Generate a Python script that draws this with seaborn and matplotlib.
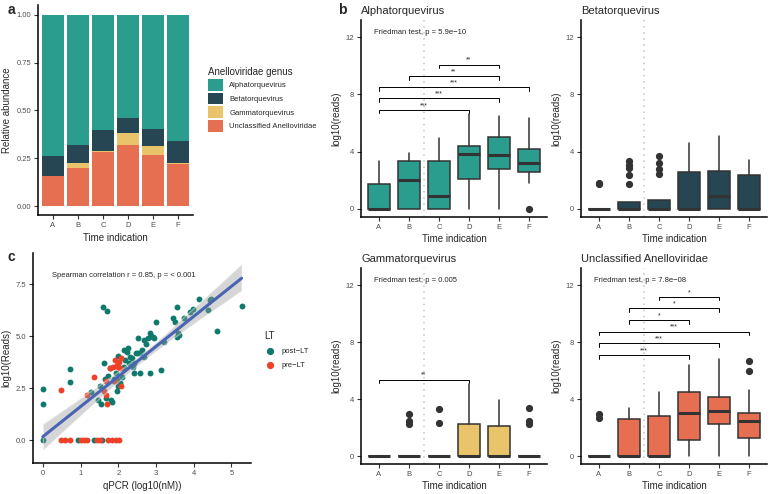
import matplotlib
matplotlib.use("Agg")
import matplotlib.pyplot as plt
from matplotlib.patches import Patch
from matplotlib.lines import Line2D
import numpy as np
import seaborn as sns

sns.set_theme(style="ticks")
plt.rcParams['font.family'] = ['Liberation Sans', 'DejaVu Sans']

# --- data ---
times = ['A', 'B', 'C', 'D', 'E', 'F']
genera = ['Alphatorquevirus', 'Betatorquevirus', 'Gammatorquevirus', 'Unclassified Anelloviridae']
genus_colors = ['#2a9d8f', '#264653', '#e9c46a', '#e76f51']

# panel a: relative abundance (bottom to top: unclassified, gamma, beta, alpha)
unclassified_rel = [0.160, 0.198, 0.285, 0.320, 0.270, 0.220]
gamma_rel = [0.000, 0.027, 0.005, 0.065, 0.045, 0.007]
beta_rel = [0.105, 0.095, 0.110, 0.075, 0.090, 0.113]
alpha_rel = [0.735, 0.680, 0.600, 0.540, 0.595, 0.660]

# panel b: box stats per time point (whislo, q1, median, q3, whishi) + outliers
alpha_box = [(0, 0, 0, 1.75, 3.35), (0, 0, 2.0, 3.33, 3.93), (0, 0, 0.88, 3.35, 4.95),
             (0, 2.09, 3.84, 4.40, 6.60), (0, 2.79, 3.79, 5.02, 6.49), (1.81, 2.58, 3.19, 4.16, 6.33)]
alpha_out = [[], [], [], [], [], [0]]
beta_box = [(0, 0, 0, 0, 0), (0, 0, 0, 0.49, 0.49), (0, 0, 0, 0.65, 0.65),
            (0, 0, 0, 2.56, 4.60), (0, 0, 0.91, 2.65, 5.09), (0, 0, 0, 2.40, 3.44)]
beta_out = [[1.72, 1.81], [1.77, 2.35, 2.86, 3.09, 3.33], [2.42, 2.77, 3.23, 3.67], [], [], []]
gamma_box = [(0, 0, 0, 0, 0), (0, 0, 0, 0, 0), (0, 0, 0, 0, 0),
             (0, 0, 0, 2.23, 5.07), (0, 0, 0, 2.12, 3.93), (0, 0, 0, 0, 0)]
gamma_out = [[], [2.23, 2.47, 2.93], [2.35, 3.28], [], [], [2.28, 2.47, 3.35]]
uncl_box = [(0, 0, 0, 0, 0), (0, 0, 0, 2.58, 3.35), (0, 0, 0, 2.84, 4.51),
            (0, 1.14, 3.05, 4.47, 6.42), (0, 2.28, 3.16, 4.16, 6.79), (0, 1.30, 2.47, 3.00, 4.63)]
uncl_out = [[2.70, 2.98], [], [], [], [], [5.98, 6.67]]

# significance brackets (from, to, height, label)
alpha_sig = [(0, 3, 6.93, '***'), (0, 4, 7.72, '***'), (0, 5, 8.49, '***'),
             (1, 4, 9.28, '**'), (2, 4, 10.09, '**')]
beta_sig = []
gamma_sig = [(0, 3, 5.37, '**')]
uncl_sig = [(0, 3, 7.07, '***'), (0, 4, 7.93, '***'), (0, 5, 8.74, '***'),
            (1, 3, 9.53, '*'), (1, 4, 10.37, '*'), (2, 4, 11.19, '*')]

friedman = ['Friedman test, p = 5.9e\u221210', None,
            'Friedman test; p = 0.005', 'Friedman test, p = 7.8e\u221208']

# panel c: qPCR vs reads
post_x = [0, 0, 0, 0.71, 0.71, 0.92, 1.27, 1.37, 1.52, 1.46, 1.55, 1.60, 1.70, 1.61, 1.66,
          1.72, 1.68, 1.78, 1.82, 1.83, 1.89, 1.96, 1.99, 1.96, 1.90, 2.05, 1.93, 2.09, 2.16,
          2.19, 2.16, 2.23, 2.25, 2.31, 2.37, 2.43, 2.40, 2.42, 2.47, 2.52, 2.58, 2.52, 2.58,
          2.64, 2.67, 2.74, 2.80, 2.67, 2.84, 2.86, 2.91, 2.96, 2.84, 2.99, 3.13, 3.22, 3.46,
          3.51, 3.55, 3.55, 3.58, 3.62, 3.74, 3.91, 3.97, 4.14, 4.39, 4.42, 4.45, 4.63, 5.27,
          1.58, 2.28, 2.10, 2.00]
post_y = [2.48, 1.73, 0, 3.41, 2.79, 0, 2.32, 0, 2.58, 1.94, 1.73, 6.39, 6.23, 3.73, 2.95,
          3.09, 2.02, 3.45, 1.91, 1.81, 2.95, 2.34, 4.05, 2.90, 2.82, 2.74, 3.22, 3.46, 3.54,
          3.86, 4.34, 4.26, 4.42, 3.99, 3.94, 3.73, 3.54, 3.25, 4.21, 4.21, 4.18, 4.92, 3.22,
          4.34, 4.82, 4.62, 4.90, 4.02, 5.14, 5.02, 4.95, 4.90, 3.22, 5.70, 3.35, 4.70, 5.87,
          5.66, 6.39, 4.98, 5.14, 5.06, 5.87, 6.17, 6.33, 6.78, 6.27, 6.75, 6.81, 5.26, 6.46,
          0, 3.70, 3.05, 2.60]
pre_x = [0.48, 0.48, 0.59, 0.71, 1.02, 1.10, 1.17, 1.43, 1.52, 1.72, 1.83, 1.93, 2.02,
         1.18, 1.35, 1.61, 1.68, 1.68, 1.71, 1.77, 1.92, 1.96, 1.99, 2.03, 2.08, 2.05, 1.87,
         2.07, 1.92]
pre_y = [2.39, 0, 0, 0, 0, 0, 0, 0, 0, 0, 0, 0, 0,
         2.15, 3.03, 2.34, 2.18, 2.85, 1.75, 3.46, 3.86, 3.62, 3.51, 3.78, 3.94, 3.46, 3.54,
         2.61, 2.82]
post_color = '#0f7a6b'
pre_color = '#ee4128'

W, H = 772, 494
fig = plt.figure(figsize=(W / 100, H / 100), dpi=100)


def add_ax(x0, y0, x1, y1):
    return fig.add_axes([x0 / W, 1 - y1 / H, (x1 - x0) / W, (y1 - y0) / H])


def style(ax):
    sns.despine(ax=ax)
    for s in ['left', 'bottom']:
        ax.spines[s].set_linewidth(1.1)
        ax.spines[s].set_color('black')
    ax.tick_params(length=3, width=0.8, color='#333333', labelsize=5.5,
                   labelcolor='#4d4d4d', pad=2)
    ax.grid(False)


# --- panel a: stacked relative abundance ---
ax_a = add_ax(38, 5, 193, 215)
layers = [unclassified_rel, gamma_rel, beta_rel, alpha_rel]
layer_colors = [genus_colors[3], genus_colors[2], genus_colors[1], genus_colors[0]]
cum = np.cumsum(np.array(layers), axis=0)
for k in range(len(layers) - 1, -1, -1):
    sns.barplot(x=times, y=cum[k], color=layer_colors[k], width=0.9, linewidth=0,
                saturation=1, errorbar=None, ax=ax_a)
ax_a.set_xlim(-0.6, 5.6)
ax_a.set_ylim(-0.045, 1.05)
ax_a.set_yticks([0, 0.25, 0.5, 0.75, 1.0])
ax_a.set_yticklabels(['0.00', '0.25', '0.50', '0.75', '1.00'])
ax_a.set_xlabel('Time indication', fontsize=7, labelpad=3)
ax_a.set_ylabel('Relative abundance', fontsize=7, labelpad=3)
style(ax_a)
handles = [Patch(facecolor=c, edgecolor='none') for c in genus_colors]
ax_a.legend(handles, genera, title='Anelloviridae genus', loc='upper left',
            bbox_to_anchor=(208 / W, 1 - 67 / H), bbox_transform=fig.transFigure,
            frameon=False, fontsize=5.5, title_fontsize=7, handlelength=2.0,
            handleheight=2.0, labelspacing=0.25, handletextpad=0.8,
            borderaxespad=0, borderpad=0, alignment='left')

# --- panel b: boxplots ---
box_sets = [alpha_box, beta_box, gamma_box, uncl_box]
out_sets = [alpha_out, beta_out, gamma_out, uncl_out]
sig_sets = [alpha_sig, beta_sig, gamma_sig, uncl_sig]
frames = [(361, 20, 547, 217), (581, 20, 767, 217), (361, 268, 547, 464), (581, 268, 767, 464)]
for i in range(4):
    ax = add_ax(*frames[i])
    stats = []
    for (lo, q1, med, q3, hi), fl in zip(box_sets[i], out_sets[i]):
        stats.append(dict(whislo=lo, q1=q1, med=med, q3=q3, whishi=hi, fliers=fl))
    ax.axvline(1.5, color='#c4c4c4', ls=(0, (1, 3)), lw=1.1, zorder=0)
    ax.bxp(stats, positions=range(6), widths=0.75, patch_artist=True, showcaps=False,
           manage_ticks=False,
           boxprops=dict(facecolor=genus_colors[i], edgecolor='#333333', linewidth=1.1),
           medianprops=dict(color='#333333', linewidth=2.2),
           whiskerprops=dict(color='#333333', linewidth=1.1),
           flierprops=dict(marker='o', markerfacecolor='#333333', markeredgecolor='#333333',
                           markersize=4.2))
    for x1, x2, y, lab in sig_sets[i]:
        ax.plot([x1, x1, x2, x2], [y - 0.25, y, y, y - 0.25], color='black', lw=0.7)
        ax.text((x1 + x2) / 2, y + 0.05, lab, ha='center', va='bottom', fontsize=5)
    if friedman[i]:
        ax.text(0.07, 0.935, friedman[i], transform=ax.transAxes, fontsize=5.5,
                ha='left', va='center')
    ax.set_xlim(-0.6, 5.6)
    ax.set_ylim(-0.56, 13.2)
    ax.set_xticks(range(6))
    ax.set_xticklabels(times)
    ax.set_yticks([0, 4, 8, 12])
    ax.set_xlabel('Time indication', fontsize=7, labelpad=2)
    ax.set_ylabel('log10(reads)', fontsize=7, labelpad=3)
    ax.set_title(genera[i], loc='left', fontsize=8, pad=4)
    style(ax)

# --- panel c: scatter with regression ---
ax_c = add_ax(33, 253, 251, 463)
sns.scatterplot(x=post_x, y=post_y, color=post_color, s=18, linewidth=0, ax=ax_c)
sns.scatterplot(x=pre_x, y=pre_y, color=pre_color, s=18, linewidth=0, ax=ax_c)
all_x = post_x + pre_x
all_y = post_y + pre_y
n_before = len(ax_c.collections)
sns.regplot(x=all_x, y=all_y, scatter=False, ci=95, seed=0, color='#4a64b4',
            line_kws=dict(lw=2.2), ax=ax_c)
for coll in ax_c.collections[n_before:]:
    coll.set_facecolor('#999999')
    coll.set_alpha(0.4)
ax_c.text(52 / 218 * 0 + 0.087, 0.895, 'Spearman correlation r = 0.85, p = < 0.001',
          transform=ax_c.transAxes, fontsize=5.5, ha='left', va='center')
ax_c.set_xlim(-0.26, 5.52)
ax_c.set_ylim(-1.1, 9.0)
ax_c.set_xticks([0, 1, 2, 3, 4, 5])
ax_c.set_yticks([0, 2.5, 5.0, 7.5])
ax_c.set_yticklabels(['0.0', '2.5', '5.0', '7.5'])
ax_c.set_xlabel('qPCR (log10(nM))', fontsize=7, labelpad=3)
ax_c.set_ylabel('log10(Reads)', fontsize=7, labelpad=3)
style(ax_c)
lt_handles = [Line2D([], [], marker='o', ls='', color=post_color, markersize=4.2),
              Line2D([], [], marker='o', ls='', color=pre_color, markersize=4.2)]
ax_c.legend(lt_handles, ['post\u2212LT', 'pre\u2212LT'], title='LT', loc='upper left',
            bbox_to_anchor=(264 / W, 1 - 331 / H), bbox_transform=fig.transFigure,
            frameon=False, fontsize=5.5, title_fontsize=7, handlelength=1.5,
            labelspacing=0.9, handletextpad=0.8, borderaxespad=0, borderpad=0,
            alignment='left')

# panel letters
fig.text(8 / W, 1 - 10 / H, 'a', fontsize=10, fontweight='bold', va='center')
fig.text(338 / W, 1 - 10 / H, 'b', fontsize=10, fontweight='bold', va='center')
fig.text(8 / W, 1 - 257 / H, 'c', fontsize=10, fontweight='bold', va='center')

fig.savefig('out.png', dpi=100)
